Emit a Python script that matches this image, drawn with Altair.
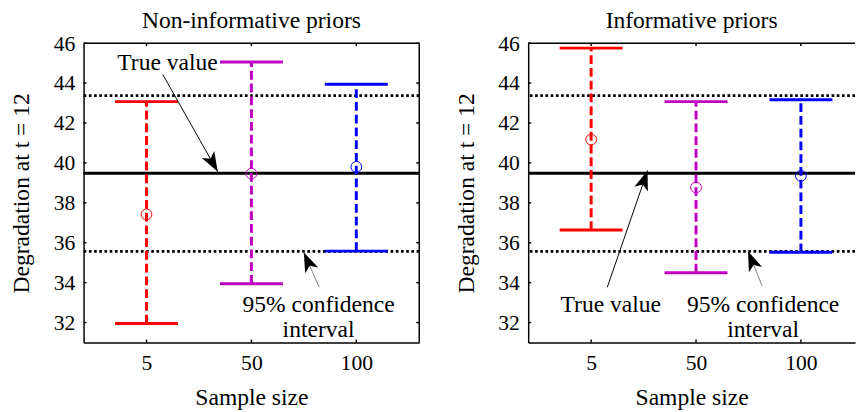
import math
import altair as alt
import pandas as pd

# ---------------- data ----------------
sample_labels = ["5", "50", "100"]
sample_pos = [1, 2, 3]
bar_colors = ["#FF0000", "#C000C0", "#0000FF"]

panel_titles = ["Non-informative priors", "Informative priors"]

noninf_mean = [37.42, 39.46, 39.80]
noninf_lower = [31.95, 33.94, 35.58]
noninf_upper = [43.07, 45.06, 43.94]

inf_mean = [41.17, 38.77, 39.35]
inf_lower = [36.64, 34.50, 35.52]
inf_upper = [45.75, 43.07, 43.16]

true_value = 39.48
ci_lower = 35.57
ci_upper = 43.37

y_ticks = [32, 34, 36, 38, 40, 42, 44, 46]
y_domain = [31, 46]
x_domains = [[0.4, 3.6], [0.4, 3.516]]

# annotation anchors (data coordinates), one entry per panel
tv_text_x = [1.20, 1.187]
tv_text_y = [45.0, 32.85]
tv_arrow_x0 = [1.155, 1.154]
tv_arrow_y0 = [44.43, 33.77]
tv_arrow_x1 = [1.679, 1.538]
tv_arrow_y1 = [39.56, 39.62]

ci_text = "95% confidence\ninterval"
ci_text_x = [2.64, 2.64]
ci_text_y = [32.87, 32.87]
ci_arrow_x0 = [2.646, 2.63]
ci_arrow_y0 = [33.77, 33.85]
ci_arrow_x1 = [2.499, 2.496]
ci_arrow_y1 = [35.52, 35.57]

# ---------------- styling ----------------
FONT = "Liberation Serif"
H = 305
WIDTHS = [342, 333]
CAP_HALF = 0.3
TICK_PX = 3
ARROW_PATH = "M0,0 L0.65,1.8 L0,1.35 L-0.65,1.8 Z"

label_expr = "[" + ",".join("'%s'" % s for s in sample_labels) + "][datum.value - 1]"


def make_panel(i, means, lowers, uppers, right_border):
    xd = x_domains[i]
    width = WIDTHS[i]
    pxx = width / (xd[1] - xd[0])
    pxy = H / (y_domain[1] - y_domain[0])

    xs = alt.Scale(domain=xd, nice=False, zero=False)
    ys = alt.Scale(domain=y_domain, nice=False, zero=False)
    x_axis = alt.Axis(values=sample_pos, labelExpr=label_expr, title="Sample size",
                      ticks=False, grid=False, labelPadding=11, titlePadding=12,
                      labelFlush=False)
    y_axis = alt.Axis(values=y_ticks, title="Degradation at  t = 12", ticks=False,
                      grid=False, labelPadding=9, titlePadding=20)

    def X(f):
        return alt.X(f, type="quantitative", scale=xs, axis=x_axis)

    def Y(f):
        return alt.Y(f, type="quantitative", scale=ys, axis=y_axis)

    bars = pd.DataFrame({
        "pos": sample_pos, "label": sample_labels,
        "mean": means, "lo": lowers, "hi": uppers,
    })
    color = alt.Color("label:N", scale=alt.Scale(domain=sample_labels, range=bar_colors), legend=None)

    base = alt.Chart(bars)
    stems = base.mark_rule(strokeWidth=3, strokeDash=[9, 4]).encode(
        x=X("pos"), y=Y("lo"), y2="hi", color=color)
    caps_df = pd.concat([
        bars.assign(v=bars["lo"]), bars.assign(v=bars["hi"])
    ])
    caps = alt.Chart(caps_df).mark_rule(strokeWidth=3).transform_calculate(
        xl="datum.pos - %f" % CAP_HALF, xr="datum.pos + %f" % CAP_HALF
    ).encode(x=X("xl"), x2="xr", y=Y("v"), color=color)
    dots = base.mark_point(shape="circle", filled=False, size=120, strokeWidth=1, opacity=1).encode(
        x=X("pos"), y=Y("mean"), color=color)

    ref_dotted = alt.Chart(pd.DataFrame({"v": [ci_lower, ci_upper]})).mark_rule(
        color="black", strokeWidth=2.7, strokeDash=[2.7, 2.6]).encode(y=Y("v"))
    ref_true = alt.Chart(pd.DataFrame({"v": [true_value]})).mark_rule(
        color="black", strokeWidth=3).encode(y=Y("v"))

    # frame (top & right) + inward ticks
    frame_rows = [{"x0": xd[0], "x1": xd[1], "y0": y_domain[1], "y1": y_domain[1]}]
    if right_border:
        frame_rows.append({"x0": xd[1], "x1": xd[1], "y0": y_domain[0], "y1": y_domain[1]})
    for t in y_ticks:
        frame_rows.append({"x0": xd[0], "x1": xd[0] + TICK_PX / pxx, "y0": t, "y1": t})
        if right_border:
            frame_rows.append({"x0": xd[1], "x1": xd[1] - TICK_PX / pxx, "y0": t, "y1": t})
    for p in sample_pos:
        frame_rows.append({"x0": p, "x1": p, "y0": y_domain[0], "y1": y_domain[0] + TICK_PX / pxy})
        frame_rows.append({"x0": p, "x1": p, "y0": y_domain[1], "y1": y_domain[1] - TICK_PX / pxy})
    frame = alt.Chart(pd.DataFrame(frame_rows)).mark_rule(color="black", strokeWidth=1.5).encode(
        x=X("x0"), x2="x1", y=Y("y0"), y2="y1")

    # arrows
    arr = pd.DataFrame({
        "x0": [tv_arrow_x0[i], ci_arrow_x0[i]],
        "y0": [tv_arrow_y0[i], ci_arrow_y0[i]],
        "x1": [tv_arrow_x1[i], ci_arrow_x1[i]],
        "y1": [tv_arrow_y1[i], ci_arrow_y1[i]],
    })
    angs = []
    for _, r in arr.iterrows():
        dx = (r["x1"] - r["x0"]) * pxx
        dy = -(r["y1"] - r["y0"]) * pxy
        angs.append(math.degrees(math.atan2(dx, -dy)) % 360)
    arr["ang"] = angs
    tv_line = alt.Chart(arr.iloc[[0]]).mark_rule(strokeWidth=1, color="black").encode(
        x=X("x0"), y=Y("y0"), x2="x1", y2="y1")
    ci_line = alt.Chart(arr.iloc[[1]]).mark_rule(strokeWidth=1, color="#7f7f7f").encode(
        x=X("x0"), y=Y("y0"), x2="x1", y2="y1")
    arrow_heads = alt.Chart(arr).mark_point(shape=ARROW_PATH, filled=True, size=500,
                                            color="black", opacity=1).encode(
        x=X("x1"), y=Y("y1"), angle=alt.Angle("ang:Q", scale=None))

    texts = pd.DataFrame({
        "x": [tv_text_x[i], ci_text_x[i]],
        "y": [tv_text_y[i], ci_text_y[i]],
        "t": ["True value", ci_text],
    })
    labels = alt.Chart(texts).mark_text(font=FONT, fontSize=24, align="center", baseline="middle",
                                        lineBreak="\n", lineHeight=25, color="black").encode(
        x=X("x"), y=Y("y"), text="t:N")

    return alt.layer(
        ref_dotted, ref_true, stems, caps, dots, frame, tv_line, ci_line, arrow_heads, labels
    ).properties(
        width=width, height=H,
        title=alt.TitleParams(panel_titles[i], font=FONT, fontSize=24, fontWeight="normal",
                              color="black", offset=-1, anchor="middle"),
    )


left = make_panel(0, noninf_mean, noninf_lower, noninf_upper, True)
right = make_panel(1, inf_mean, inf_lower, inf_upper, False)

chart = alt.hconcat(left, right, spacing=33).properties(
    padding={"left": 1, "top": -3, "right": 0, "bottom": 0}
).configure_view(stroke="transparent").configure_axis(
    labelFont=FONT, labelFontSize=22, labelColor="black",
    titleFont=FONT, titleFontSize=24, titleFontWeight="normal", titleColor="black",
    domainColor="black", domainWidth=1.5,
)

chart.save("out.html", embed_options={"renderer": "svg", "actions": False})
